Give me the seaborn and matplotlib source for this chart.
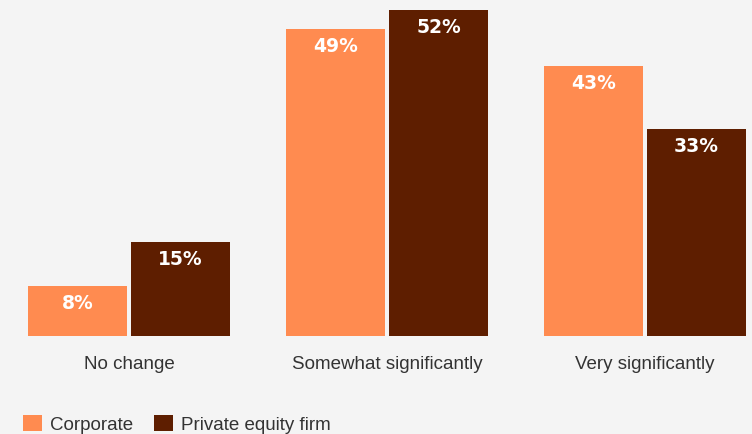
import matplotlib
matplotlib.use("Agg")
import matplotlib.pyplot as plt
import seaborn as sns
import pandas as pd
from matplotlib.patches import Patch

categories = ["No change", "Somewhat significantly", "Very significantly"]
series = ["Corporate", "Private equity firm"]
corporate = [8, 49, 43]
private_equity = [15, 52, 33]
colors = ["#FF8B50", "#5E1E00"]
bg = "#F4F4F4"

df = pd.DataFrame({
    "category": categories * 2,
    "group": [series[0]] * 3 + [series[1]] * 3,
    "value": corporate + private_equity,
})

sns.set_theme(style="white")
plt.rcParams["font.family"] = ["Liberation Sans", "DejaVu Sans"]

fig = plt.figure(figsize=(7.52, 4.35), dpi=100, facecolor=bg)
ax = fig.add_axes([0, 98 / 435, 1, 336 / 435])
ax.set_facecolor(bg)

sns.barplot(data=df, x="category", y="value", hue="group", order=categories,
            hue_order=series, palette=colors, width=0.8, gap=0.04,
            saturation=1, linewidth=0, edgecolor="none", ax=ax, legend=False)

ax.set_xlim(-0.5, 2.415)
ax.set_ylim(0, 53.6)
ax.set_xlabel("")
ax.set_ylabel("")
ax.set_yticks([])
for s in ax.spines.values():
    s.set_visible(False)
ax.tick_params(axis="x", length=0, pad=14, labelsize=13.5, labelcolor="#333333")

# value labels inside the top of each bar
for container in ax.containers:
    for patch in container:
        h = patch.get_height()
        ax.annotate(f"{h:.0f}%", (patch.get_x() + patch.get_width() / 2, h),
                    xytext=(0, -11.8), textcoords="offset points",
                    ha="center", va="center", color="white",
                    fontsize=13.5, fontweight="bold", family="DejaVu Sans")

handles = [Patch(facecolor=c, edgecolor="none") for c in colors]
fig.legend(handles, series, loc="center left",
           bbox_to_anchor=(23 / 752, 10 / 435), ncol=2, frameon=False,
           fontsize=13.5, handlelength=1.0, handleheight=1.0,
           handletextpad=0.45, columnspacing=1.1, borderpad=0,
           borderaxespad=0, labelcolor="#333333")

fig.savefig("out.png", dpi=100, facecolor=bg)
